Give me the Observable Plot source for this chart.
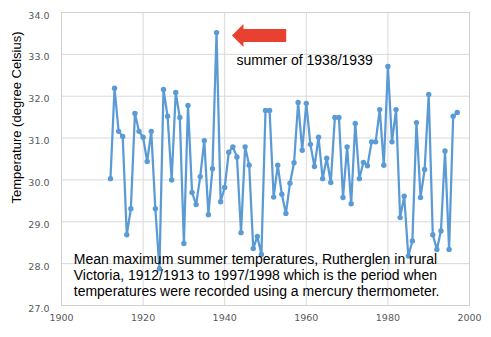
<!DOCTYPE html>
<html><head><meta charset="utf-8">
<script src="https://cdn.jsdelivr.net/npm/d3@7"></script>
<script src="https://cdn.jsdelivr.net/npm/@observablehq/plot@0.6"></script>
<style>body{margin:0;background:#fff;} svg{display:block;}</style>
</head><body><div id="chart"></div>
<script>
const years = [1912,1913,1914,1915,1916,1917,1918,1919,1920,1921,1922,1923,1924,1925,1926,1927,1928,1929,1930,1931,1932,1933,1934,1935,1936,1937,1938,1939,1940,1941,1942,1943,1944,1945,1946,1947,1948,1949,1950,1951,1952,1953,1954,1955,1956,1957,1958,1959,1960,1961,1962,1963,1964,1965,1966,1967,1968,1969,1970,1971,1972,1973,1974,1975,1976,1977,1978,1979,1980,1981,1982,1983,1984,1985,1986,1987,1988,1989,1990,1991,1992,1993,1994,1995,1996,1997];
const temps = [30.03,32.19,31.16,31.04,28.69,29.31,31.59,31.16,31.02,30.44,31.16,29.31,27.88,32.16,31.52,30.00,32.09,31.49,28.48,31.78,29.70,29.41,30.08,30.94,29.17,30.27,33.52,29.48,29.82,30.66,30.79,30.55,28.74,30.79,30.35,28.36,28.65,28.22,31.66,31.66,29.59,30.35,29.66,29.20,29.92,30.41,31.85,30.71,31.83,30.85,30.32,31.02,30.03,30.52,29.94,31.49,31.49,29.58,30.79,29.43,31.35,30.03,30.42,30.34,30.91,30.91,31.68,30.35,32.71,30.91,31.68,29.10,29.61,28.18,28.54,31.37,29.58,30.25,32.04,28.69,28.34,28.78,30.69,28.34,31.52,31.61];
const xTicks = [1900,1920,1940,1960,1980,2000];
const yTicks = [27,28,29,30,31,32,33,34];
const yTitle = "Temperature (degree Celsius)";
const peakLabel = "summer of 1938/1939";
const noteLines = ["Mean maximum summer temperatures, Rutherglen in rural","Victoria, 1912/1913 to 1997/1998 which is the period when","temperatures were recorded using a mercury thermometer."];
// arrow annotation anchor (data space)
const arrowTipYear = 1941.9, arrowTailYear = 1955.2, arrowTemp = 33.44;
const peakLabelPos = {x: 1942.9, y: 32.85};
const notePos = {x: 1903.0, y: 27.73};

const data = years.map((y, i) => ({year: y, temp: temps[i]}));

function arrowMark(index, scales) {
  const x0 = scales.x(arrowTipYear), x1 = scales.x(arrowTailYear), y = scales.y(arrowTemp);
  const headLen = 11.5, headH = 11.5, shaftH = 6.5;
  const p = d3.path();
  p.moveTo(x0, y);
  p.lineTo(x0 + headLen, y - headH);
  p.lineTo(x0 + headLen, y - shaftH);
  p.lineTo(x1, y - shaftH);
  p.lineTo(x1, y + shaftH);
  p.lineTo(x0 + headLen, y + shaftH);
  p.lineTo(x0 + headLen, y + headH);
  p.closePath();
  const path = d3.create("svg:path").attr("d", p.toString()).attr("fill", "#e8412f");
  return path.node();
}

const chart = Plot.plot({
  width: 491, height: 337,
  marginLeft: 61, marginRight: 22, marginTop: 12, marginBottom: 32,
  style: {fontFamily: "'DejaVu Sans', sans-serif", fontSize: "9.5px", color: "#595959", background: "#fff"},
  x: {domain: [1900, 2000], ticks: xTicks, tickFormat: d => String(d), label: null},
  y: {domain: [27, 34], ticks: yTicks, tickFormat: d => d.toFixed(1), label: null},
  marks: [
    Plot.gridX(xTicks, {stroke: "#d9d9d9", strokeOpacity: 1}),
    Plot.gridY(yTicks, {stroke: "#d9d9d9", strokeOpacity: 1}),
    Plot.frame({stroke: "#d0d0d0"}),
    Plot.axisX(xTicks, {tickSize: 0, tickPadding: 9, tickFormat: d => String(d), fill: "#595959"}),
    Plot.axisY(yTicks, {tickSize: 0, tickPadding: 12, dy: 3, tickFormat: d => d.toFixed(1), fill: "#595959"}),
    Plot.line(data, {x: "year", y: "temp", stroke: "#5b9bd5", strokeWidth: 2.25}),
    Plot.dot(data, {x: "year", y: "temp", fill: "#5b9bd5", r: 2.7}),
    arrowMark,
    Plot.text([peakLabel], {x: peakLabelPos.x, y: peakLabelPos.y, text: d => d, textAnchor: "start", fontSize: 14, fontFamily: "'Liberation Sans', Arial, sans-serif", fill: "#000"}),
    Plot.text([noteLines.join("\n")], {x: notePos.x, y: notePos.y, text: d => d, textAnchor: "start", lineAnchor: "middle", lineHeight: 1.143, fontSize: 14, fontFamily: "'Liberation Sans', Arial, sans-serif", fill: "#000"}),
    Plot.text([yTitle], {frameAnchor: "top-left", dx: -44.5, dy: 105, rotate: -90, textAnchor: "middle", lineAnchor: "middle", text: d => d, fontSize: 13, fontFamily: "'Liberation Sans', Arial, sans-serif", fill: "#000"})
  ]
});
document.getElementById("chart").appendChild(chart);
</script>
</body></html>
